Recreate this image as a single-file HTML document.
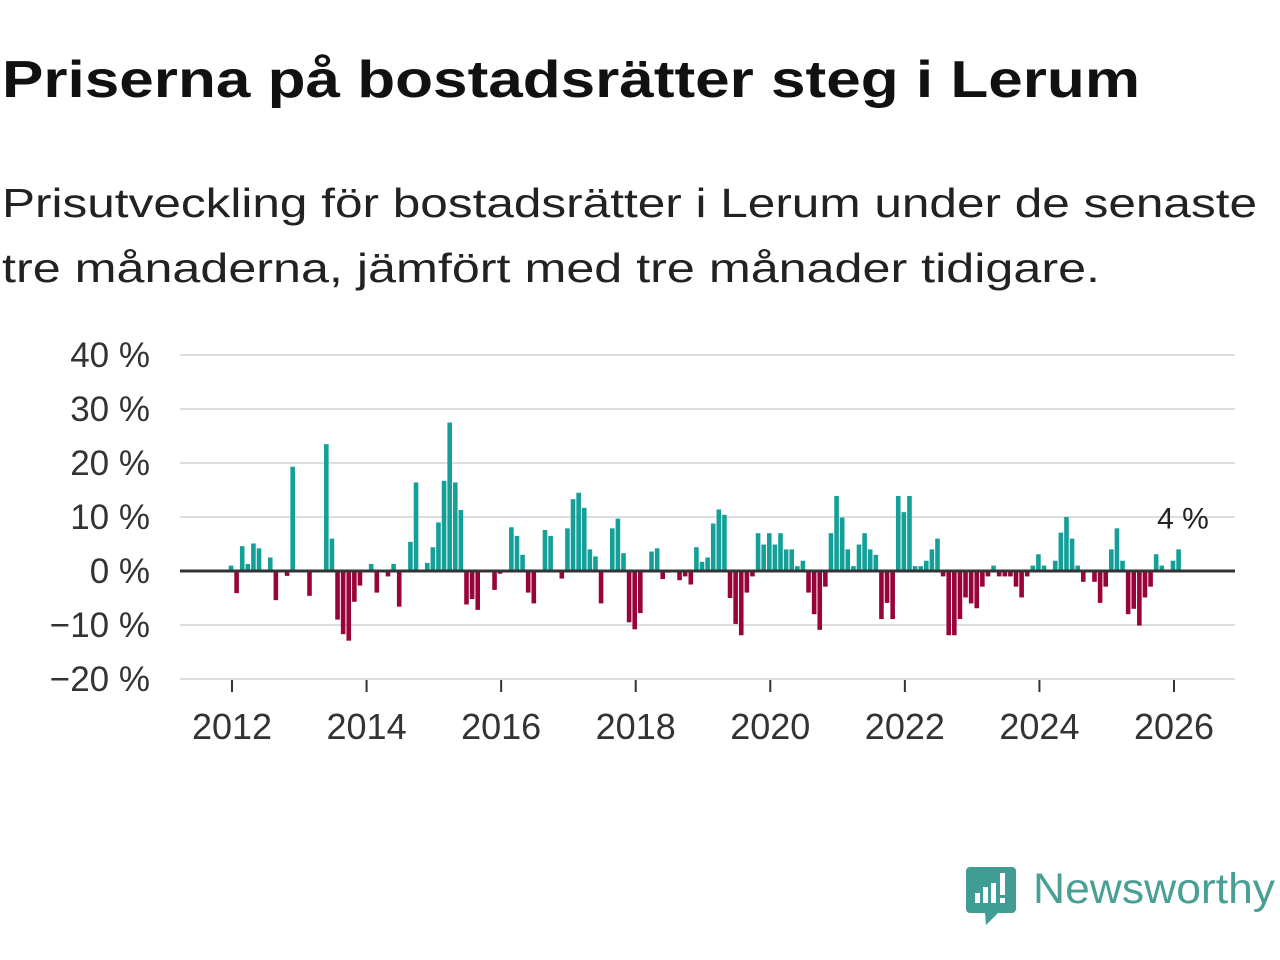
<!DOCTYPE html>
<html><head><meta charset="utf-8"><style>
html,body{margin:0;padding:0;background:#fff;width:1280px;height:960px;overflow:hidden}
svg text{font-family:"Liberation Sans",sans-serif}
</style></head><body>
<svg id="chart" width="1280" height="960" viewBox="0 0 1280 960">
<text x="2" y="97" font-size="52" font-weight="bold" fill="#111" textLength="1138" lengthAdjust="spacingAndGlyphs">Priserna på bostadsrätter steg i Lerum</text>
<text x="2" y="217" font-size="41" fill="#222" textLength="1255" lengthAdjust="spacingAndGlyphs">Prisutveckling för bostadsrätter i Lerum under de senaste</text>
<text x="2" y="282" font-size="41" fill="#222" textLength="1098" lengthAdjust="spacingAndGlyphs">tre månaderna, jämfört med tre månader tidigare.</text>
<g id="grid"></g>
<g id="ylabels"></g>
<g id="bars"></g>
<line id="zero" stroke="#333" stroke-width="3"></line>
<g id="xlabels"></g>
<text id="lastlabel" font-size="30" fill="#222" text-anchor="middle"></text>
<g>
<path d="M970 867 h42 a4 4 0 0 1 4 4 v38 a4 4 0 0 1 -4 4 h-14 l-12 12 l-1 -12 h-15 a4 4 0 0 1 -4 -4 v-38 a4 4 0 0 1 4 -4z" fill="#3f9d94"/>
<rect x="975" y="893" width="5" height="10" fill="#fff"/><rect x="983" y="887" width="5" height="16" fill="#fff"/><rect x="991" y="883" width="5" height="20" fill="#fff"/><rect x="1000" y="873" width="5" height="22" fill="#fff"/><rect x="1000" y="898" width="5" height="5" fill="#fff"/>
<text x="1033" y="903" font-size="43" fill="#48a095" textLength="242" lengthAdjust="spacingAndGlyphs">Newsworthy</text>
</g>
</svg>
<script>
const startYear = 2012;
const values = [1.0,-4.1,4.6,1.3,5.1,4.2,0,2.5,-5.4,0,-0.9,19.3,
0,0,-4.6,0,0,23.5,6.0,-9,-11.7,-12.9,-5.7,-2.7,
0,1.3,-4,0,-1,1.3,-6.6,0,5.4,16.4,0,1.5,
4.4,9,16.7,27.5,16.4,11.3,-6.2,-5.2,-7.2,0,0,-3.5,
-0.5,0,8.1,6.5,3,-4,-6,0,7.6,6.5,0,-1.4,
7.9,13.3,14.5,11.7,4,2.7,-6,0,7.9,9.7,3.3,-9.5,
-10.8,-7.8,0,3.6,4.2,-1.5,-0.3,0,-1.7,-1,-2.5,4.4,
1.7,2.5,8.8,11.4,10.4,-5,-9.8,-11.9,-4,-1,7,4.9,
7,4.9,7,4,4,0.9,1.9,-4,-8,-10.9,-2.9,7,
13.9,9.9,4,0.9,4.9,7,4,3,-8.9,-5.9,-8.9,13.9,
10.9,13.9,0.9,0.9,1.9,4,6,-1,-11.9,-11.9,-8.9,-4.9,
-6,-6.9,-2.9,-1,1,-1,-1,-1,-2.9,-4.9,-1,1,
3.1,1,0,1.9,7.1,10,6,1,-2,0,-2,-5.9,
-2.9,4,7.9,1.9,-8,-7,-10.1,-4.9,-2.9,3.1,1,0,
1.9,4];
const yTicks = [40,30,20,10,0,-10,-20];
const yTickLabels = ["40 %","30 %","20 %","10 %","0 %","−10 %","−20 %"];
const xTickYears = [2012,2014,2016,2018,2020,2022,2024,2026];
const lastLabel = "4 %";

const NS="http://www.w3.org/2000/svg";
const y=v=>571-v*5.4;
const x=m=>232+m*(942/168)-1;
const grid=document.getElementById('grid'),yl=document.getElementById('ylabels'),bars=document.getElementById('bars'),xl=document.getElementById('xlabels');
yTicks.forEach((t,i)=>{
  const l=document.createElementNS(NS,'line');
  
  
  l.setAttribute('x1',180);l.setAttribute('x2',1235);l.setAttribute('y1',y(t));l.setAttribute('y2',y(t));
  l.setAttribute('stroke','#ddd');l.setAttribute('stroke-width',2);grid.appendChild(l);
  const tx=document.createElementNS(NS,'text');
  
  
  tx.setAttribute('x',150);tx.setAttribute('y',y(t)+12);tx.setAttribute('text-anchor','end');
  tx.setAttribute('font-size',35);tx.setAttribute('fill','#333');tx.textContent=yTickLabels[i];yl.appendChild(tx);
});
values.forEach((v,m)=>{
  if(v===0)return;
  const r=document.createElementNS(NS,'rect');
  
  
  r.setAttribute('x',x(m)-2.3);r.setAttribute('width',4.6);
  r.setAttribute('y',Math.min(y(v),y(0)));r.setAttribute('height',Math.abs(y(v)-y(0)));
  r.setAttribute('fill',v>0?'#14a098':'#98043a');bars.appendChild(r);
});
const z=document.getElementById('zero');
z.setAttribute('x1',180);z.setAttribute('x2',1235);z.setAttribute('y1',y(0));z.setAttribute('y2',y(0));
xTickYears.forEach(yr=>{
  const m=(yr-startYear)*12, px=232+m*(942/168);
  const t=document.createElementNS(NS,'line');
  
  
  t.setAttribute('x1',px);t.setAttribute('x2',px);t.setAttribute('y1',680);t.setAttribute('y2',692);
  t.setAttribute('stroke','#333');t.setAttribute('stroke-width',2);xl.appendChild(t);
  const tx=document.createElementNS(NS,'text');
  
  
  tx.setAttribute('x',px);tx.setAttribute('y',739);tx.setAttribute('text-anchor','middle');
  tx.setAttribute('font-size',36);tx.setAttribute('fill','#333');tx.textContent=yr;xl.appendChild(tx);
});
const ll=document.getElementById('lastlabel');
ll.setAttribute('x',1183);ll.setAttribute('y',y(values[values.length-1])-21);ll.textContent=lastLabel;
</script>
</body></html>
